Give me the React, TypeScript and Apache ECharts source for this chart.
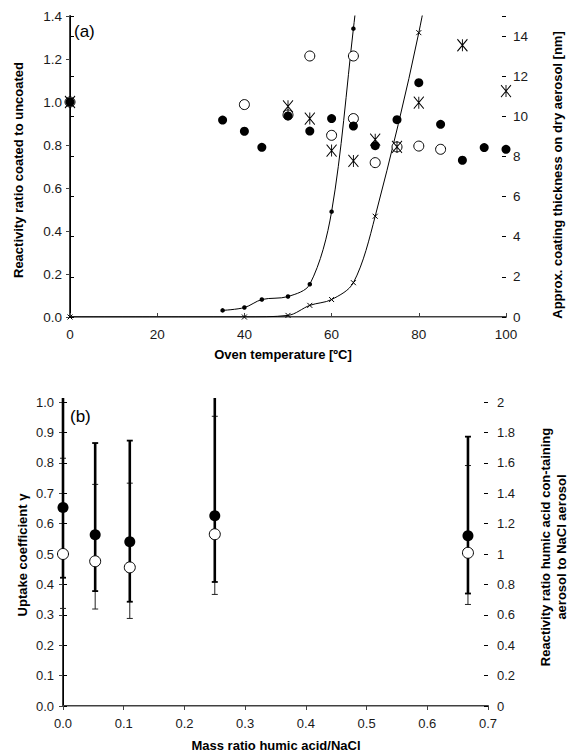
import React, { useEffect, useRef } from 'react';
import * as echarts from 'echarts';

// ---------- Panel (a) ----------
const ovenTempFilled = [0, 35, 40, 44, 50, 55, 60, 65, 70, 75, 80, 85, 90, 95, 100];
const ratioFilled = [1.0, 0.916, 0.864, 0.789, 0.935, 0.865, 0.923, 0.888, 0.797, 0.918, 1.09, 0.896, 0.729, 0.788, 0.78];
const ovenTempOpen = [0, 40, 50, 55, 60, 65, 65, 70, 75, 80, 85];
const ratioOpen = [1.0, 0.988, 0.94, 1.214, 0.845, 1.214, 0.923, 0.718, 0.791, 0.795, 0.78];
const ovenTempStar = [0, 50, 55, 60, 65, 70, 75, 80, 90, 100];
const ratioStar = [1.0, 0.98, 0.923, 0.774, 0.726, 0.825, 0.791, 0.997, 1.264, 1.051];
const ovenTempThickDot = [35, 40, 44, 50, 55, 60, 65, 70];
const thicknessDot = [0.33, 0.47, 0.87, 1.02, 1.63, 5.25, 14.37, 24];
const ovenTempThickX = [0, 40, 50, 55, 60, 65, 70, 80, 90];
const thicknessX = [0, 0, 0.08, 0.58, 0.87, 1.71, 5.02, 14.17, 26];

// ---------- Panel (b) ----------
const massRatio = [0, 0.053, 0.11, 0.25, 0.667];
const uptakeGamma = [0.653, 0.563, 0.54, 0.626, 0.56];
const gammaLow = [0.422, 0.378, 0.343, 0.408, 0.37];
const gammaHigh = [1.05, 0.865, 0.873, 1.06, 0.886];
const reactRatio = [1.0, 0.952, 0.912, 1.13, 1.008];
const reactLow = [0.642, 0.638, 0.576, 0.734, 0.668];
const reactHigh = [1.63, 1.458, 1.466, 1.906, 1.582];

const FONT = 'Arial, "Liberation Sans", sans-serif';
const zip = (a: number[], b: number[]) => a.map((v, i) => [v, b[i]]);

const STAR = 'path://M0,0L10,12M10,0L0,12M5,0L5,12';
const XMARK = 'path://M0,0L10,10M10,0L0,10';

function errorBarSeries(xAxisIndex: number, yAxisIndex: number, lows: number[], highs: number[], width: number, capW: number, color: string, z: number) {
  return {
    type: 'custom',
    xAxisIndex,
    yAxisIndex,
    z,
    data: massRatio.map((x, i) => [x, lows[i], highs[i]]),
    encode: { x: 0, y: [1, 2] },
    renderItem: (params: any, api: any) => {
      const x = api.value(0);
      const lo = api.coord([x, api.value(1)]);
      const hi = api.coord([x, api.value(2)]);
      const limit = params.coordSys.y - 4;
      const clipped = hi[1] < limit;
      const top = clipped ? limit : hi[1];
      const st = { stroke: color, lineWidth: width };
      const children: any[] = [
        { type: 'line', shape: { x1: lo[0], y1: lo[1], x2: lo[0], y2: top }, style: st },
        { type: 'line', shape: { x1: lo[0] - 3, y1: lo[1], x2: lo[0] + 3, y2: lo[1] }, style: { stroke: color, lineWidth: capW } },
      ];
      if (!clipped) {
        children.push({ type: 'line', shape: { x1: hi[0] - 3, y1: hi[1], x2: hi[0] + 3, y2: hi[1] }, style: { stroke: color, lineWidth: capW } });
      }
      return { type: 'group', children };
    },
  };
}

export default function App() {
  const ref = useRef<HTMLDivElement>(null);
  useEffect(() => {
    if (!ref.current) return;
    const chart = echarts.init(ref.current, null, { renderer: 'svg' });
    const labelStyle = { color: '#1a1a1a', fontFamily: FONT };
    const darkLine = { show: true, lineStyle: { color: '#404040', width: 2 } };
    const blackLine = { show: true, lineStyle: { color: '#000', width: 1 } };
    const grayTop = {
      axisLine: { show: true, lineStyle: { color: '#a0a0a0', width: 1.2 } },
      axisTick: { show: false },
      axisLabel: { show: false },
      splitLine: { show: false },
    };
    const option: any = {
      animation: false,
      backgroundColor: '#fff',
      grid: [
        { left: 70, top: 16, width: 436, height: 301 },
        { left: 63, top: 402, width: 425, height: 304 },
      ],
      xAxis: [
        {
          type: 'value', gridIndex: 0, position: 'bottom', min: 0, max: 100, interval: 20,
          axisLine: darkLine,
          axisTick: { show: true, inside: true, length: 4, lineStyle: { color: '#404040' } },
          axisLabel: { ...labelStyle, fontSize: 13.5, margin: 10 },
          splitLine: { show: false },
        },
        { type: 'value', gridIndex: 0, position: 'top', min: 0, max: 100, ...grayTop },
        {
          type: 'value', gridIndex: 1, position: 'bottom', min: 0, max: 0.7, interval: 0.1,
          axisLine: darkLine,
          axisTick: { show: true, inside: false, length: 4, lineStyle: { color: '#404040' } },
          axisLabel: { ...labelStyle, fontSize: 13, margin: 11, formatter: (v: number) => v.toFixed(1) },
          splitLine: { show: false },
        },
        { type: 'value', gridIndex: 1, position: 'top', min: 0, max: 0.7, ...grayTop },
      ],
      yAxis: [
        {
          type: 'value', gridIndex: 0, position: 'left', min: 0, max: 1.4, interval: 0.2,
          axisLine: darkLine,
          axisTick: { show: true, inside: false, length: 4, lineStyle: { color: '#404040' } },
          axisLabel: { ...labelStyle, fontSize: 13.5, margin: 8, formatter: (v: number) => v.toFixed(1) },
          splitLine: { show: false },
        },
        {
          type: 'value', gridIndex: 0, position: 'right', min: 0, max: 15, interval: 2,
          axisLine: blackLine,
          axisTick: { show: true, inside: false, length: 4, lineStyle: { color: '#000' } },
          axisLabel: { ...labelStyle, fontSize: 13.5, margin: 7, formatter: (v: number) => (v > 14 ? '' : String(v)) },
          splitLine: { show: false },
        },
        {
          type: 'value', gridIndex: 0, position: 'right', min: 0, max: 15, interval: 2,
          axisLine: { show: false },
          axisTick: { show: true, inside: true, length: 4, lineStyle: { color: '#000' } },
          axisLabel: { show: false },
          splitLine: { show: false },
        },
        {
          type: 'value', gridIndex: 1, position: 'left', min: 0, max: 1, interval: 0.1,
          axisLine: darkLine,
          axisTick: { show: true, inside: false, length: 4, lineStyle: { color: '#404040' } },
          axisLabel: { ...labelStyle, fontSize: 13, margin: 9, formatter: (v: number) => v.toFixed(1) },
          splitLine: { show: false },
        },
        {
          type: 'value', gridIndex: 1, position: 'right', min: 0, max: 2, interval: 0.2,
          axisLine: blackLine,
          axisTick: { show: true, inside: false, length: 4, lineStyle: { color: '#000' } },
          axisLabel: { ...labelStyle, fontSize: 13, margin: 9 },
          splitLine: { show: false },
        },
        {
          type: 'value', gridIndex: 1, position: 'right', min: 0, max: 2, interval: 0.2,
          axisLine: { show: false },
          axisTick: { show: true, inside: true, length: 4, lineStyle: { color: '#000' } },
          axisLabel: { show: false },
          splitLine: { show: false },
        },
      ],
      series: [
        // ----- (a) thickness curves (right axis)
        {
          type: 'line', xAxisIndex: 0, yAxisIndex: 1, smooth: 0.33, clip: true,
          data: zip(ovenTempThickDot, thicknessDot),
          symbol: 'circle', symbolSize: 4.5, showAllSymbol: true,
          itemStyle: { color: '#000' },
          lineStyle: { color: '#000', width: 1 }, z: 3,
        },
        {
          type: 'line', xAxisIndex: 0, yAxisIndex: 1, smooth: 0.33, clip: true,
          data: zip(ovenTempThickX, thicknessX),
          symbol: XMARK, symbolSize: 5, showAllSymbol: true,
          itemStyle: { color: '#000', borderColor: '#000', borderWidth: 1 },
          lineStyle: { color: '#000', width: 1 }, z: 3,
        },
        // ----- (a) reactivity ratio (left axis)
        {
          type: 'scatter', xAxisIndex: 0, yAxisIndex: 0, data: zip(ovenTempOpen, ratioOpen),
          symbol: 'circle', symbolSize: 10,
          itemStyle: { color: '#fff', borderColor: '#000', borderWidth: 1, opacity: 1 }, z: 4,
        },
        {
          type: 'scatter', xAxisIndex: 0, yAxisIndex: 0, data: zip(ovenTempFilled, ratioFilled),
          symbol: 'circle', symbolSize: 9,
          itemStyle: { color: '#000', opacity: 1 }, z: 5,
        },
        {
          type: 'scatter', xAxisIndex: 0, yAxisIndex: 0, data: zip(ovenTempStar, ratioStar),
          symbol: STAR, symbolSize: [10, 12],
          itemStyle: { color: 'none', borderColor: '#000', borderWidth: 1, opacity: 1 }, z: 6,
        },
        // ----- (b) error bars
        errorBarSeries(2, 4, reactLow, reactHigh, 1, 1, '#222', 3),
        errorBarSeries(2, 3, gammaLow, gammaHigh, 2.6, 1.8, '#000', 4),
        {
          type: 'scatter', xAxisIndex: 2, yAxisIndex: 3, data: zip(massRatio, uptakeGamma),
          symbol: 'circle', symbolSize: 11,
          itemStyle: { color: '#000', opacity: 1 }, z: 5,
        },
        {
          type: 'scatter', xAxisIndex: 2, yAxisIndex: 4, data: zip(massRatio, reactRatio),
          symbol: 'circle', symbolSize: 11,
          itemStyle: { color: '#fff', borderColor: '#000', borderWidth: 1, opacity: 1 }, z: 6,
        },
      ],
      graphic: [
        { type: 'text', left: 74, top: 23, style: { text: '(a)', fontSize: 17, fontFamily: FONT, fill: '#000' } },
        { type: 'text', left: 70, top: 408, style: { text: '(b)', fontSize: 17, fontFamily: FONT, fill: '#000' } },
        {
          type: 'text', x: 18, y: 170, rotation: Math.PI / 2,
          style: { text: 'Reactivity ratio coated to uncoated', fontSize: 13, fontWeight: 'bold', fontFamily: FONT, fill: '#000', textAlign: 'center', textVerticalAlign: 'middle', align: 'center', verticalAlign: 'middle' },
        },
        {
          type: 'text', x: 557, y: 175, rotation: Math.PI / 2,
          style: { text: 'Approx. coating thickness on dry aerosol [nm]', fontSize: 13, fontWeight: 'bold', fontFamily: FONT, fill: '#000', textAlign: 'center', textVerticalAlign: 'middle', align: 'center', verticalAlign: 'middle' },
        },
        {
          type: 'text', x: 283, y: 354,
          style: { text: 'Oven temperature [ºC]', fontSize: 13, fontWeight: 'bold', fontFamily: FONT, fill: '#000', textAlign: 'center', textVerticalAlign: 'middle', align: 'center', verticalAlign: 'middle' },
        },
        {
          type: 'text', x: 22, y: 555, rotation: Math.PI / 2,
          style: { text: 'Uptake coefficient γ', fontSize: 13, fontWeight: 'bold', fontFamily: FONT, fill: '#000', textAlign: 'center', textVerticalAlign: 'middle', align: 'center', verticalAlign: 'middle' },
        },
        {
          type: 'text', x: 553, y: 547, rotation: Math.PI / 2,
          style: { text: 'Reactivity ratio humic acid con-taining\naerosol to NaCl aerosol', fontSize: 13, fontWeight: 'bold', fontFamily: FONT, fill: '#000', lineHeight: 16, textAlign: 'center', textVerticalAlign: 'middle', align: 'center', verticalAlign: 'middle' },
        },
        {
          type: 'text', x: 276, y: 745,
          style: { text: 'Mass ratio humic acid/NaCl', fontSize: 13, fontWeight: 'bold', fontFamily: FONT, fill: '#000', textAlign: 'center', textVerticalAlign: 'middle', align: 'center', verticalAlign: 'middle' },
        },
      ],
    };
    chart.setOption(option);
    return () => chart.dispose();
  }, []);
  return <div ref={ref} style={{ position: 'fixed', left: 0, top: 0, width: 569, height: 752, background: '#fff' }} />;
}
